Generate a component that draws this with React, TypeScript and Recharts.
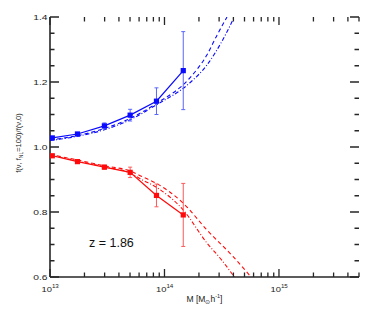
import React from "react";
import { LineChart, Line, XAxis, YAxis, ErrorBar, ReferenceArea, Label } from "recharts";

// plot frame (px) – set by the chart margins below
const PL = 50;
const PR = 359;
const PT = 17;
const PB = 277;

const X_MIN = 13;
const X_MAX = 15.699; // log10(5e15)

// measured points, x = log10(M / M_sun h^-1)
const pointMassLog = [13.02, 13.24, 13.475, 13.70, 13.93, 14.164];
const blueRatio = [1.028, 1.040, 1.065, 1.098, 1.141, 1.235];
const blueErr = [0.004, 0.005, 0.009, 0.018, 0.041, 0.12];
const redRatio = [0.973, 0.955, 0.938, 0.922, 0.851, 0.791];
const redErr = [0.004, 0.005, 0.006, 0.016, 0.035, 0.097];

// theory curves
const blueDashedX = [13.0, 13.24, 13.475, 13.70, 13.93, 14.22, 14.37, 14.46, 14.546];
const blueDashedY = [1.022, 1.035, 1.057, 1.088, 1.134, 1.212, 1.283, 1.345, 1.40];
const blueDotDashX = [13.0, 13.24, 13.475, 13.70, 13.93, 14.22, 14.37, 14.5, 14.61];
const blueDotDashY = [1.020, 1.033, 1.053, 1.084, 1.130, 1.197, 1.252, 1.324, 1.40];
const redDashedX = [13.0, 13.24, 13.475, 13.70, 13.81, 13.93, 14.164, 14.37, 14.6, 14.756];
const redDashedY = [0.977, 0.960, 0.942, 0.926, 0.908, 0.888, 0.827, 0.745, 0.6625, 0.6];
const redDotDashX = [13.0, 13.24, 13.475, 13.70, 13.81, 13.93, 14.164, 14.37, 14.5, 14.61];
const redDotDashY = [0.975, 0.957, 0.939, 0.920, 0.898, 0.876, 0.806, 0.705, 0.652, 0.6];

const xMajor = [13, 14, 15];
const xMinorMult = [2, 3, 4, 5, 6, 7, 8, 9];
const yMajor = [0.6, 0.8, 1.0, 1.2, 1.4];
const yTicks = [0.6, 0.65, 0.7, 0.75, 0.8, 0.85, 0.9, 0.95, 1.0, 1.05, 1.1, 1.15, 1.2, 1.25, 1.3, 1.35, 1.4];

const xTicks = [
  ...xMajor,
  ...xMajor.flatMap((d) => xMinorMult.map((k) => d + Math.log10(k))).filter((v) => v <= X_MAX + 1e-6),
];

const BLUE = "#0a0aff";
const RED = "#ff0a0a";
const AXIS = "#262626";
const FONT = "'Liberation Sans', Arial, sans-serif";
const frameLine = { stroke: AXIS, strokeWidth: 1.6 };

const zip = (xs: number[], ys: number[], errs?: number[]) =>
  xs.map((x, i) => ({ x, y: ys[i], err: errs ? errs[i] : 0 }));

const isMajor = (v: number, majors: number[]) => majors.some((m) => Math.abs(m - v) < 1e-6);

function XTick(props: any) {
  const { x, payload } = props;
  const major = isMajor(payload.value, xMajor);
  const len = major ? 8 : 4.5;
  return (
    <g>
      <path d={`M${x},${PB}V${PB - len}M${x},${PT}V${PT + len}`} stroke={AXIS} strokeWidth={1.3} fill="none" />
      {major && (
        <text
          transform={`translate(${x - 8.5},${PB + 15}) scale(1.25,1)`}
          fontSize={7.5}
          fontFamily={FONT}
          fill="#222"
        >
          10<tspan fontSize={5} dy={-4}>{payload.value}</tspan>
        </text>
      )}
    </g>
  );
}

function YTick(props: any) {
  const { y, payload } = props;
  const major = isMajor(payload.value, yMajor);
  const len = major ? 9 : 4.5;
  return (
    <g>
      <path d={`M${PL},${y}H${PL + len}M${PR},${y}H${PR - len}`} stroke={AXIS} strokeWidth={1.3} fill="none" />
      {major && (
        <text
          transform={`translate(47.5,${y + 2.8}) scale(1.35,1)`}
          textAnchor="end"
          fontSize={7.6}
          fontFamily={FONT}
          fill="#222"
        >
          {payload.value.toFixed(1)}
        </text>
      )}
    </g>
  );
}

const square = (color: string) => (p: any) => (
  <rect key={`sq-${p.index}`} x={p.cx - 2.6} y={p.cy - 2.6} width={5.2} height={5.2} fill={color} />
);

export default function App() {
  return (
    <div style={{ position: "absolute", left: 0, top: 0, width: 374, height: 312, background: "#fff" }}>
      <LineChart width={374} height={312} margin={{ top: PT, right: 374 - PR, left: 0, bottom: 0 }}>
        <XAxis
          type="number"
          dataKey="x"
          domain={[X_MIN, X_MAX]}
          allowDataOverflow
          ticks={xTicks}
          interval={0}
          tick={<XTick />}
          tickLine={false}
          axisLine={frameLine}
          height={312 - PB}
        >
          <Label
            content={() => (
              <text x={(PL + PR) / 2} y={302} textAnchor="middle" fontSize={8.5} fontFamily={FONT} fill="#222">
                M  [M<tspan fontSize={6} dy={2}>⊙</tspan><tspan dy={-2}>h</tspan>
                <tspan fontSize={5.5} dy={-4}>-1</tspan><tspan dy={4}>]</tspan>
              </text>
            )}
          />
        </XAxis>
        <XAxis xAxisId="top" orientation="top" type="number" domain={[X_MIN, X_MAX]} height={0} tick={false} tickLine={false} axisLine={frameLine} />
        <YAxis
          type="number"
          domain={[0.6, 1.4]}
          allowDataOverflow
          ticks={yTicks}
          interval={0}
          tick={<YTick />}
          tickLine={false}
          axisLine={frameLine}
          width={PL}
        >
          <Label
            content={() => (
              <text
                x={21}
                y={143}
                transform="rotate(-90, 21, 143)"
                textAnchor="middle"
                fontSize={7.5}
                fontFamily={FONT}
                fill="#222"
              >
                f(ν, f<tspan fontSize={5} dy={2}>NL</tspan><tspan dy={-2}>=100)/f(ν,0)</tspan>
              </text>
            )}
          />
        </YAxis>
        <YAxis yAxisId="right" orientation="right" type="number" domain={[0.6, 1.4]} width={0} tick={false} tickLine={false} axisLine={frameLine} />

        <Line data={zip(blueDashedX, blueDashedY)} dataKey="y" type="monotone" stroke={BLUE} strokeWidth={1.1} strokeDasharray="4 3" dot={false} isAnimationActive={false} />
        <Line data={zip(blueDotDashX, blueDotDashY)} dataKey="y" type="monotone" stroke={BLUE} strokeWidth={1.1} strokeDasharray="4 2 1 2" dot={false} isAnimationActive={false} />
        <Line data={zip(redDashedX, redDashedY)} dataKey="y" type="monotone" stroke={RED} strokeWidth={1.1} strokeDasharray="4 3" dot={false} isAnimationActive={false} />
        <Line data={zip(redDotDashX, redDotDashY)} dataKey="y" type="monotone" stroke={RED} strokeWidth={1.1} strokeDasharray="4 2 1 2" dot={false} isAnimationActive={false} />

        <Line data={zip(pointMassLog, blueRatio, blueErr)} dataKey="y" type="linear" stroke={BLUE} strokeWidth={1.2} dot={square(BLUE)} isAnimationActive={false}>
          <ErrorBar dataKey="err" width={2} stroke="#5a66ff" strokeWidth={1} isAnimationActive={false} />
        </Line>
        <Line data={zip(pointMassLog, redRatio, redErr)} dataKey="y" type="linear" stroke={RED} strokeWidth={1.2} dot={square(RED)} isAnimationActive={false}>
          <ErrorBar dataKey="err" width={2} stroke="#ff5a5a" strokeWidth={1} isAnimationActive={false} />
        </Line>

        <ReferenceArea
          x1={X_MIN}
          x2={X_MIN}
          y1={0.6}
          y2={0.6}
          fill="none"
          stroke="none"
          label={() => (
            <text x={89} y={247} fontSize={12.5} fontFamily={FONT} fill="#111">
              z = 1.86
            </text>
          )}
        />
      </LineChart>
    </div>
  );
}
